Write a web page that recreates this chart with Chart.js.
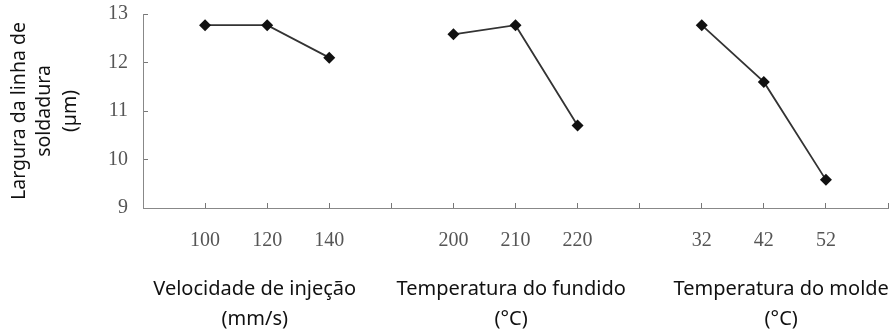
<!DOCTYPE html>
<html>
<head>
<meta charset="utf-8">
<script src="https://cdn.jsdelivr.net/npm/chart.js@4"></script>
<style>
  body { margin: 0; background: #fff; }
</style>
</head>
<body>
<canvas id="chart" width="894" height="336"></canvas>
<script>
// Factor levels and measured weld line width (µm)
const speedLabels = ['100', '120', '140'];
const speedValues = [12.77, 12.77, 12.1];
const meltLabels = ['200', '210', '220'];
const meltValues = [12.58, 12.77, 10.7];
const moldLabels = ['32', '42', '52'];
const moldValues = [12.77, 11.6, 9.58];

const groupTitles = [
    ['Velocidade de injeção', '(mm/s)'],
    ['Temperatura do fundido', '(°C)'],
    ['Temperatura do molde', '(°C)']
];
const yTicks = [9, 10, 11, 12, 13];
const yTitle = ['Largura da linha de', 'soldadura', '(µm)'];

// each group takes 3 slots plus an empty one
const groups = [
    { labels: speedLabels, values: speedValues },
    { labels: meltLabels, values: meltValues },
    { labels: moldLabels, values: moldValues }
];
const slotLabels = [];
groups.forEach(g => { slotLabels.push(...g.labels, ''); });

// group titles are not quite centred under their middle level in the original
const titleNudge = [-0.2, -0.07, 0.28];

const datasets = groups.map((g, gi) => ({
    data: g.values.map((v, i) => ({ x: gi * 4 + i + 1, y: v })),
    borderColor: '#333',
    borderWidth: 1.8,
    backgroundColor: '#111',
    pointStyle: 'rectRot',
    pointRadius: 6,
    pointBorderWidth: 0,
    tension: 0,
    clip: false
}));

const serif = { family: '"Liberation Serif", "Times New Roman", serif', size: 20 };
const sans = '"Noto Sans", "DejaVu Sans", sans-serif';

// drop the automatic edge padding so the plot area keeps a fixed box
const noPad = s => { s.paddingLeft = 0; s.paddingRight = 0; s.paddingTop = 0; s.paddingBottom = 0; };

new Chart(document.getElementById('chart').getContext('2d'), {
    type: 'line',
    data: { datasets: datasets },
    options: {
        responsive: false,
        animation: false,
        layout: { padding: { top: 14, right: 5, left: 0, bottom: 0 } },
        plugins: { legend: { display: false }, tooltip: { enabled: false } },
        scales: {
            x: {
                type: 'linear',
                min: 0,
                max: slotLabels.length,
                afterBuildTicks: s => { s.ticks = slotLabels.map((l, i) => ({ value: i + 1 })); },
                afterFit: s => { s.height = 50; noPad(s); },
                ticks: {
                    callback: (v) => slotLabels[v - 1],
                    font: serif,
                    color: '#555',
                    padding: 26,
                    maxRotation: 0,
                    autoSkip: false
                },
                grid: { drawOnChartArea: false, tickLength: -5, color: '#777' },
                border: { color: '#888', width: 1 }
            },
            x2: {
                type: 'linear',
                position: 'bottom',
                min: 0,
                max: slotLabels.length,
                afterBuildTicks: s => { s.ticks = groupTitles.map((t, i) => ({ value: i * 4 + 2 + titleNudge[i] })); },
                afterFit: s => { s.height = 78; noPad(s); },
                ticks: {
                    callback: (v, i) => groupTitles[i],
                    font: { family: sans, size: 20, lineHeight: 1.5 },
                    color: '#111',
                    padding: 16,
                    maxRotation: 0,
                    autoSkip: false
                },
                grid: { display: false, drawTicks: false },
                border: { display: false }
            },
            y: {
                min: 9,
                max: 13,
                afterBuildTicks: s => { s.ticks = yTicks.map(v => ({ value: v })); },
                afterFit: s => { s.width = 143; noPad(s); },
                ticks: { font: serif, color: '#555', padding: 20 },
                grid: { drawOnChartArea: false, tickLength: -5, color: '#777' },
                border: { color: '#888', width: 1 },
                title: {
                    display: true,
                    text: yTitle,
                    font: { family: sans, size: 19.5, lineHeight: 1.33 },
                    color: '#111',
                    padding: { top: 6, bottom: 0 }
                }
            }
        }
    }
});
</script>
</body>
</html>
